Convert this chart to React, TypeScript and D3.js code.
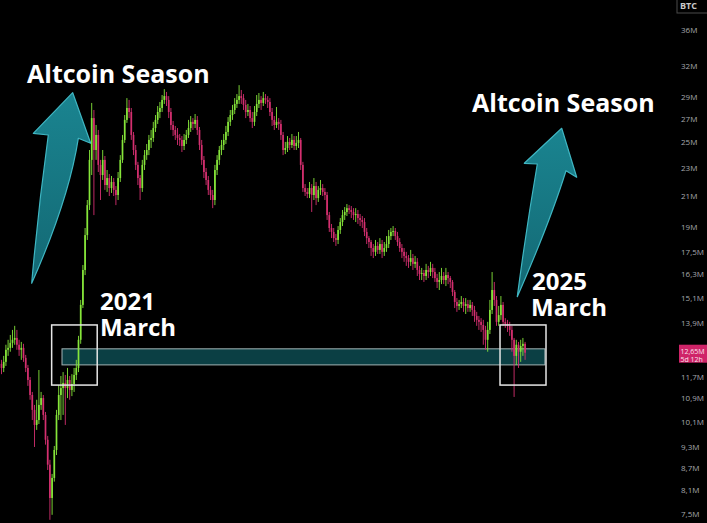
import React from "react";
import * as d3 from "d3";

const W = 707;
const H = 523;

// Weekly candles (values in millions). Open of each candle = previous close.
const firstOpen = 12.2;
const closes = [
  12.04, 12.28, 12.77, 12.85, 13.06, 13.19, 13.27, 12.98, 12.77, 12.85,
  12.44, 12.04, 11.58, 11.03, 10.51, 10.01, 10.17, 10.68, 10.92, 10.34,
  9.54, 8.80, 7.90, 8.43, 9.23, 10.34, 11.03, 11.28, 11.47, 11.28,
  11.58, 11.21, 11.43, 11.77, 12.04, 13.19, 14.77, 16.54, 18.52, 20.41,
  23.63, 27.06, 24.40, 25.62, 23.25, 22.50, 23.63, 21.78, 22.28, 21.57,
  22.00, 21.44, 21.09, 22.28, 23.63, 25.21, 26.90, 27.96, 27.60, 25.62,
  24.40, 23.25, 22.28, 21.57, 23.25, 24.00, 24.40, 25.21, 25.37, 26.20,
  26.90, 27.60, 27.96, 28.70, 29.06, 28.70, 27.60, 26.46, 26.04, 25.62,
  25.37, 25.21, 24.72, 25.21, 25.62, 26.20, 26.73, 26.55, 26.90, 26.04,
  24.80, 23.63, 22.72, 22.14, 21.44, 21.09, 20.75, 22.87, 23.63, 24.40,
  24.80, 25.21, 25.87, 26.73, 27.33, 27.78, 28.33, 28.70, 29.06, 28.87,
  28.24, 27.60, 27.78, 27.06, 26.73, 27.60, 28.33, 28.70, 28.42, 28.87,
  28.70, 28.51, 27.60, 26.90, 26.46, 26.73, 26.55, 25.62, 24.40, 24.56,
  25.05, 24.80, 25.21, 24.72, 24.97, 25.21, 23.25, 21.57, 21.30, 21.16,
  21.57, 21.09, 21.71, 20.88, 21.44, 21.57, 21.30, 21.09, 19.76, 18.95,
  18.71, 18.34, 18.23, 18.83, 19.32, 19.76, 19.96, 20.21, 20.09, 19.96,
  19.76, 19.83, 19.57, 19.45, 19.32, 18.71, 18.34, 18.11, 17.76, 17.54,
  17.88, 17.65, 17.99, 17.54, 17.76, 17.99, 18.46, 18.71, 18.77, 18.46,
  18.11, 17.76, 17.54, 17.31, 17.19, 16.98, 17.19, 16.87, 16.98, 16.54,
  16.33, 16.38, 16.22, 16.54, 16.43, 16.65, 16.43, 16.11, 15.91, 16.01,
  16.22, 16.01, 16.27, 16.11, 15.91, 15.40, 14.91, 14.72, 14.81, 14.91,
  14.72, 14.81, 14.62, 14.77, 14.53, 14.25, 14.07, 13.98, 13.84, 13.62,
  13.19, 13.62, 14.53, 15.50, 15.01, 13.98, 14.29, 14.77, 13.98, 13.89,
  13.80, 13.62, 13.19, 12.52, 12.98, 12.69, 12.93, 13.02, 12.65,
];
const highs = [
  12.36, 12.52, 12.98, 13.19, 13.40, 13.62, 13.80, 13.62, 13.19, 13.10,
  13.02, 12.56, 12.16, 11.69, 11.14, 10.68, 10.86, 11.96, 11.14, 11.03,
  10.44, 9.66, 8.94, 8.54, 9.35, 10.51, 11.39, 11.73, 11.88, 11.77,
  12.04, 11.73, 11.80, 12.04, 12.36, 13.36, 15.01, 16.81, 18.95, 20.75,
  24.40, 28.42, 27.78, 26.46, 26.04, 23.63, 24.40, 23.93, 22.87, 22.57,
  22.43, 22.28, 21.71, 22.72, 24.00, 25.62, 27.33, 28.87, 28.70, 27.96,
  25.87, 24.80, 23.48, 22.50, 23.63, 24.40, 24.88, 25.62, 26.04, 26.73,
  27.33, 28.14, 28.51, 29.16, 29.72, 29.45, 29.06, 27.96, 26.81, 26.38,
  26.20, 25.70, 25.53, 25.70, 26.04, 26.90, 27.24, 27.06, 27.42, 27.24,
  26.29, 25.21, 23.93, 23.02, 22.43, 21.71, 21.44, 23.25, 24.00, 24.72,
  25.21, 25.70, 26.38, 27.15, 27.78, 28.24, 28.87, 29.25, 30.11, 29.64,
  29.25, 28.70, 28.33, 28.14, 27.60, 28.14, 29.16, 29.35, 29.06, 29.45,
  29.25, 29.06, 28.87, 27.96, 27.24, 28.05, 27.06, 26.90, 25.87, 25.05,
  25.53, 25.37, 25.70, 25.53, 25.53, 25.87, 25.37, 23.48, 21.85, 21.57,
  22.00, 21.85, 22.28, 22.00, 21.71, 22.14, 21.85, 21.57, 21.30, 19.96,
  19.20, 18.95, 18.59, 19.07, 19.57, 20.09, 20.28, 20.48, 20.41, 20.35,
  20.21, 20.21, 20.09, 19.83, 19.70, 19.57, 18.95, 18.46, 18.23, 17.99,
  18.23, 18.11, 18.34, 18.23, 18.11, 18.46, 18.83, 18.95, 19.07, 18.95,
  18.71, 18.34, 17.99, 17.76, 17.54, 17.36, 17.65, 17.42, 17.31, 17.19,
  16.76, 16.65, 16.54, 16.87, 16.76, 16.98, 16.87, 16.65, 16.33, 16.43,
  16.65, 16.43, 16.65, 16.43, 16.22, 16.01, 15.50, 15.10, 15.01, 15.20,
  15.10, 15.10, 15.01, 15.01, 14.91, 14.72, 14.44, 14.25, 14.15, 14.07,
  13.80, 13.98, 15.01, 16.43, 15.91, 15.20, 14.72, 15.20, 14.91, 14.15,
  14.07, 13.98, 13.80, 13.27, 13.19, 13.10, 13.19, 13.27, 13.10,
];
const lows = [
  11.80, 11.88, 12.12, 12.52, 12.69, 12.85, 12.98, 12.77, 12.52, 12.36,
  12.28, 11.88, 11.36, 10.86, 10.17, 9.32, 9.85, 10.04, 10.51, 10.17,
  9.39, 8.65, 7.36, 7.48, 8.33, 9.08, 10.17, 10.17, 10.34, 10.01,
  10.92, 10.86, 10.99, 11.14, 11.58, 11.88, 13.02, 14.62, 16.27, 18.23,
  20.09, 22.50, 19.76, 23.63, 22.72, 20.75, 22.14, 21.44, 21.30, 21.02,
  21.23, 21.02, 20.41, 20.75, 22.00, 23.40, 24.97, 26.64, 27.06, 25.21,
  24.00, 22.87, 21.78, 20.75, 21.30, 22.87, 23.63, 24.00, 24.56, 25.05,
  25.87, 26.55, 27.06, 27.60, 28.33, 28.14, 27.06, 26.04, 25.53, 25.21,
  24.80, 24.72, 24.24, 24.40, 24.88, 25.37, 25.87, 26.04, 26.20, 25.62,
  24.40, 23.25, 22.28, 21.78, 21.09, 20.75, 20.21, 20.41, 22.50, 23.25,
  24.00, 24.40, 24.88, 25.53, 26.38, 26.90, 27.42, 27.96, 28.33, 28.33,
  27.78, 27.06, 27.24, 26.73, 26.20, 26.38, 27.24, 27.96, 27.78, 28.14,
  28.33, 27.96, 27.24, 26.38, 26.04, 26.20, 26.04, 25.21, 24.00, 24.08,
  24.24, 24.40, 24.56, 24.40, 24.40, 24.56, 22.87, 21.30, 21.02, 20.88,
  20.88, 19.96, 20.75, 20.41, 20.62, 21.09, 21.02, 20.75, 19.45, 18.71,
  18.34, 18.11, 17.88, 17.99, 18.59, 19.07, 19.45, 19.70, 19.83, 19.57,
  19.45, 19.32, 19.20, 19.07, 18.95, 18.46, 17.99, 17.76, 17.31, 17.19,
  17.31, 17.42, 17.42, 17.19, 17.31, 17.54, 17.76, 18.23, 18.46, 18.23,
  17.88, 17.54, 17.19, 16.98, 16.76, 16.65, 16.76, 16.54, 16.65, 16.22,
  16.01, 16.01, 15.91, 16.01, 16.11, 16.22, 16.11, 15.91, 15.60, 15.50,
  15.80, 15.80, 15.70, 15.80, 15.60, 15.20, 14.62, 14.44, 14.53, 14.62,
  14.44, 14.34, 14.44, 14.44, 14.25, 13.98, 13.80, 13.62, 13.53, 12.98,
  12.77, 12.69, 13.44, 14.34, 14.72, 13.80, 13.80, 14.07, 13.80, 13.71,
  13.53, 13.36, 12.69, 10.96, 12.16, 12.04, 12.28, 12.52, 12.36,
];

const tickValues = [36, 32, 29, 27, 25, 23, 21, 19, 17.5, 16.3, 15.1, 13.9, 11.7, 10.9, 10.1, 9.3, 8.7, 8.1, 7.5];
const tickLabels = ["36M", "32M", "29M", "27M", "25M", "23M", "21M", "19M", "17,5M", "16,3M", "15,1M", "13,9M", "11,7M", "10,9M", "10,1M", "9,3M", "8,7M", "8,1M", "7,5M"];

const lastPrice = 12.65;
const lastPriceLabel = "12,65M";
const countdownLabel = "5d 12h";
const symbolLabel = "BTC";

// Annotation zones, in price (M) and candle-index units
const zonePrice = [12.16, 12.81];
const zoneIndex = [27.5, 247];
const boxPrice = [11.39, 13.84];
const box2021Index = [22.8, 43.5];
const box2025Index = [226.6, 247.5];

const titleText = "Altcoin Season";
const yearTexts = ["2021", "2025"];
const monthText = "March";

const GREEN = "#86e53a";
const RED = "#d42f6f";

const leftArrow = "M72.7,92.7 L90.7,143.3 L78.3,138.3 Q69,199 31.7,283.3 Q38,210 48.3,135 L33.3,133.3 Z";
const rightArrow = "M561.7,128.3 L576.7,177.3 L566,170.7 Q550,222 517.3,296.7 Q526,230 537.3,164 L524.3,163.3 Z";

export default function App() {
  const n = closes.length;
  const x = d3.scaleLinear().domain([0, n - 1]).range([1.5, 1.5 + 2.2 * (n - 1)]);
  const y = d3.scaleLog().domain([7.5, 36]).range([514, 30]);
  const bodyW = 1.7;

  const candles = closes.map((c, i) => {
    const o = i === 0 ? firstOpen : closes[i - 1];
    return { i, o, c, h: highs[i], l: lows[i], up: c >= o };
  });

  const textStyle: React.CSSProperties = {
    fontFamily: "'Open Sans', 'Noto Sans', sans-serif",
    fontWeight: 700,
    fontSize: 25,
    fill: "#ffffff",
  };
  const smallTitle: React.CSSProperties = { ...textStyle, fontSize: 24 };

  return (
    <svg
      width={W}
      height={H}
      viewBox={`0 0 ${W} ${H}`}
      style={{ position: "absolute", left: 0, top: 0, display: "block", background: "#000" }}
    >
      <defs>
        <linearGradient id="arrowGrad" x1="0" y1="0" x2="0" y2="1">
          <stop offset="0%" stopColor="#1a8490" />
          <stop offset="100%" stopColor="#136873" />
        </linearGradient>
      </defs>
      <rect x={0} y={0} width={W} height={H} fill="#000" />

      {/* support zone */}
      <rect
        x={x(zoneIndex[0])}
        y={y(zonePrice[1])}
        width={x(zoneIndex[1]) - x(zoneIndex[0])}
        height={y(zonePrice[0]) - y(zonePrice[1])}
        fill="#0b3f44"
        stroke="#a3b4b6"
        strokeWidth={1}
      />

      {/* candles */}
      <g>
        {candles.map((d) => {
          const col = d.up ? GREEN : RED;
          const top = y(Math.max(d.o, d.c));
          const bot = y(Math.min(d.o, d.c));
          return (
            <g key={d.i}>
              <line x1={x(d.i)} x2={x(d.i)} y1={y(d.h)} y2={y(d.l)} stroke={col} strokeWidth={0.9} />
              <rect x={x(d.i) - bodyW / 2} y={top} width={bodyW} height={Math.max(1, bot - top)} fill={col} />
            </g>
          );
        })}
      </g>

      {/* boxes */}
      {[box2021Index, box2025Index].map((b, k) => (
        <rect
          key={k}
          x={x(b[0])}
          y={y(boxPrice[1])}
          width={x(b[1]) - x(b[0])}
          height={y(boxPrice[0]) - y(boxPrice[1])}
          fill="none"
          stroke="#e6e6e6"
          strokeWidth={1.5}
        />
      ))}

      {/* arrows */}
      <path d={leftArrow} fill="url(#arrowGrad)" stroke="#3fb6c2" strokeWidth={1.2} strokeLinejoin="round" />
      <path d={rightArrow} fill="url(#arrowGrad)" stroke="#3fb6c2" strokeWidth={1.2} strokeLinejoin="round" />

      {/* texts */}
      <text x={27} y={83} style={textStyle}>{titleText}</text>
      <text x={472} y={112} style={textStyle}>{titleText}</text>
      <text x={100} y={310} style={smallTitle}>
        <tspan x={100} y={310}>{yearTexts[0]}</tspan>
        <tspan x={100} y={336}>{monthText}</tspan>
      </text>
      <text x={532} y={290} style={smallTitle}>
        <tspan x={532} y={290}>{yearTexts[1]}</tspan>
        <tspan x={531} y={316}>{monthText}</tspan>
      </text>

      {/* right axis */}
      <g style={{ fontFamily: "'Open Sans', 'Noto Sans', sans-serif", fontSize: 8 }}>
        {tickValues.map((v, k) => (
          <text key={k} x={681} y={y(v)} dy="0.35em" fill="#a6a8ad">
            {tickLabels[k]}
          </text>
        ))}
        <rect x={679} y={y(lastPrice) - 8} width={30} height={18} fill="#cf2468" />
        <text x={680.5} y={y(lastPrice) + 1} fill="#fbe3ec" style={{ fontSize: 7 }}>
          {lastPriceLabel}
        </text>
        <text x={680.5} y={y(lastPrice) + 9} fill="#fbe3ec" style={{ fontSize: 7 }}>
          {countdownLabel}
        </text>
        <rect x={677} y={-4} width={33} height={17} fill="#000" stroke="#4a4a4a" strokeWidth={1} />
        <text x={680} y={9} fill="#c8c8c8" style={{ fontSize: 9, fontWeight: 700 }}>
          {symbolLabel}
        </text>
      </g>
    </svg>
  );
}
